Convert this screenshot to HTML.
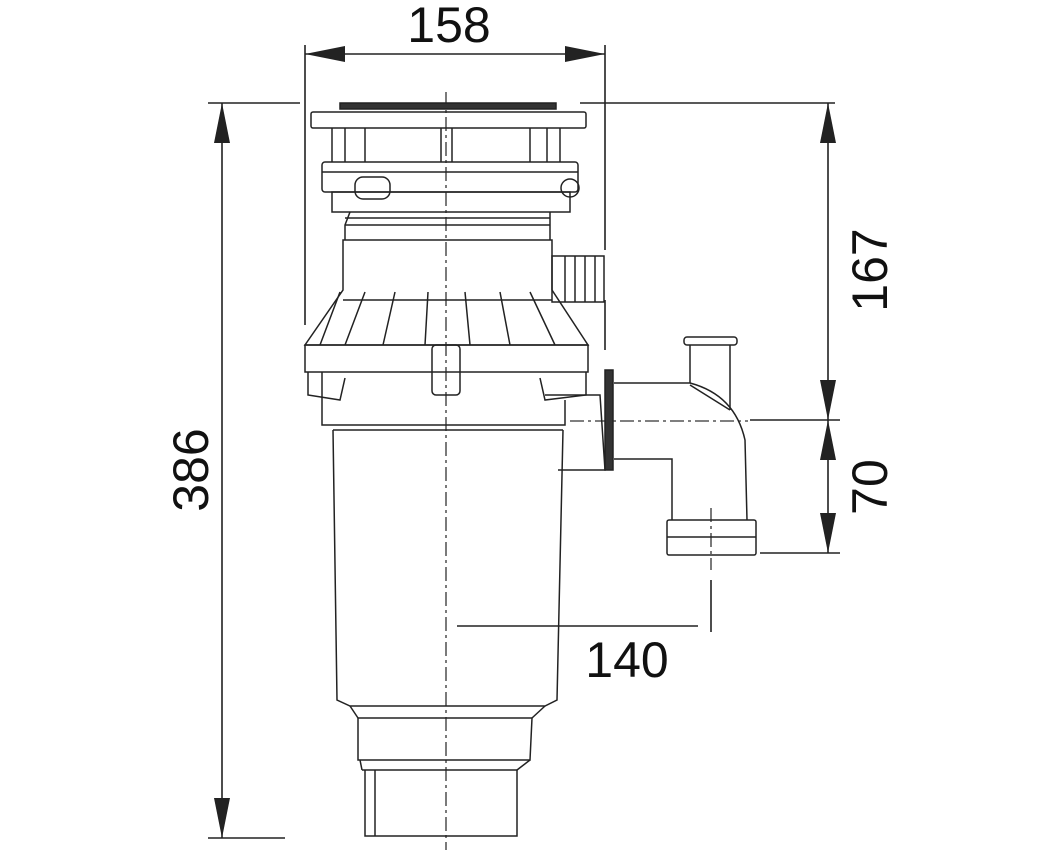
<!DOCTYPE html>
<html><head><style>html,body{margin:0;padding:0;background:#fff}svg{display:block}</style></head>
<body>
<svg width="1052" height="860" viewBox="0 0 1052 860" xmlns="http://www.w3.org/2000/svg" font-family="Liberation Sans, sans-serif">
<g stroke="#222" stroke-width="1.6" fill="none">
<line x1="305" y1="45" x2="305" y2="325"/>
<line x1="605" y1="45" x2="605" y2="250"/>
<line x1="605" y1="300" x2="605" y2="350"/>
<line x1="305" y1="54" x2="605" y2="54"/>
<line x1="208" y1="103" x2="300" y2="103"/>
<line x1="208" y1="838" x2="285" y2="838"/>
<line x1="222" y1="103" x2="222" y2="838"/>
<line x1="580" y1="103" x2="835" y2="103"/>
<line x1="750" y1="420" x2="840" y2="420"/>
<line x1="760" y1="553" x2="840" y2="553"/>
<line x1="828" y1="103" x2="828" y2="553"/>
<line x1="457" y1="626" x2="698" y2="626"/>
<line x1="711" y1="580" x2="711" y2="632"/>
</g>
<g fill="#222">
<polygon points="305,54 345,46 345,62"/><polygon points="605,54 565,46 565,62"/>
<polygon points="222,103 214,143 230,143"/><polygon points="222,838 214,798 230,798"/>
<polygon points="828,103 820,143 836,143"/><polygon points="828,420 820,380 836,380"/>
<polygon points="828,420 820,460 836,460"/><polygon points="828,553 820,513 836,513"/>
</g>
<g stroke="#333" stroke-width="1.3" stroke-dasharray="14,4,3,4">
<line x1="446" y1="92" x2="446" y2="850"/>
<line x1="570" y1="421" x2="748" y2="421"/>
<line x1="711" y1="508" x2="711" y2="570"/>
</g>
<g stroke="#222" stroke-width="1.5" fill="none">
<rect x="340" y="103" width="216" height="6" fill="#333"/>
<rect x="311" y="112" width="275" height="16" rx="2"/>
<line x1="332" y1="128" x2="332" y2="162"/><line x1="345" y1="128" x2="345" y2="162"/><line x1="365" y1="128" x2="365" y2="162"/>
<line x1="441" y1="128" x2="441" y2="162"/><line x1="452" y1="128" x2="452" y2="162"/>
<line x1="530" y1="128" x2="530" y2="162"/><line x1="547" y1="128" x2="547" y2="162"/><line x1="560" y1="128" x2="560" y2="162"/>
<rect x="322" y="162" width="256" height="30" rx="3"/>
<line x1="322" y1="172" x2="578" y2="172"/>
<rect x="355" y="177" width="35" height="22" rx="8"/>
<circle cx="570" cy="188" r="9"/>
<rect x="332" y="192" width="238" height="20"/>
<path d="M350,212 L345,225 L345,240 M550,212 L550,240"/>
<line x1="345" y1="218" x2="550" y2="218"/>
<line x1="345" y1="225" x2="550" y2="225"/>
<path d="M343,240 L552,240 L552,290 L588,345 L305,345 L343,290 Z"/>
<rect x="552" y="256" width="52" height="46"/>
<line x1="565" y1="256" x2="565" y2="302"/><line x1="575" y1="256" x2="575" y2="302"/><line x1="585" y1="256" x2="585" y2="302"/><line x1="595" y1="256" x2="595" y2="302"/>
<line x1="343" y1="300" x2="552" y2="300"/>
<path d="M340,292 L320,345 M365,292 L345,345 M395,292 L383,345 M428,292 L425,345 M465,292 L470,345 M500,292 L510,345 M530,292 L555,345"/>
<rect x="305" y="345" width="283" height="27"/>
<rect x="432" y="345" width="28" height="50" rx="4"/>
<path d="M308,372 L308,395 L340,400 L345,378"/>
<path d="M586,372 L586,395 L545,400 L540,378"/>
<path d="M322,372 L322,425 L565,425 L565,400"/>
<path d="M333,430 L337,700 L350,706 L545,706 L557,700 L563,430"/>
<line x1="333" y1="430" x2="563" y2="430"/>
<path d="M545,395 L600,395 L605,470 L558,470"/>
<path d="M358,718 L358,760 L530,760 L532,718"/>
<line x1="350" y1="706" x2="358" y2="718"/><line x1="545" y1="706" x2="532" y2="718"/>
<line x1="358" y1="718" x2="532" y2="718"/>
<path d="M362,770 L517,770 L517,836 L365,836 L365,770"/>
<line x1="375" y1="770" x2="375" y2="836"/>
<line x1="360" y1="760" x2="362" y2="770"/><line x1="530" y1="760" x2="517" y2="770"/>
<rect x="605" y="370" width="8" height="100" fill="#333"/>
<path d="M614,383 L690,383 Q735,395 745,440 L747,520"/>
<path d="M614,459 L672,459 L672,520"/>
<path d="M690,383 L690,345 M730,345 L730,410 M690,385 L730,410"/>
<rect x="684" y="337" width="53" height="8" rx="3"/>
<rect x="667" y="520" width="89" height="35" rx="2"/>
<line x1="667" y1="537" x2="756" y2="537"/>
</g>
<g fill="#111" font-size="50">
<text x="449" y="42" text-anchor="middle">158</text>
<text x="627" y="677" text-anchor="middle">140</text>
<text transform="translate(208,470) rotate(-90)" text-anchor="middle">386</text>
<text transform="translate(887,270) rotate(-90)" text-anchor="middle">167</text>
<text transform="translate(887,487) rotate(-90)" text-anchor="middle">70</text>
</g>
</svg>
</body></html>
